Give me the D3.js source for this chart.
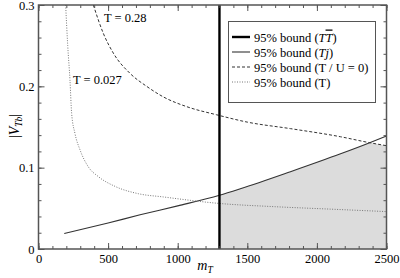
<!DOCTYPE html>
<html>
<head>
<meta charset="utf-8">
<script src="https://cdn.jsdelivr.net/npm/d3@7"></script>
<style>
body { margin: 0; background: #fff; }
</style>
</head>
<body>
<div id="chart"></div>
<script>
// values
var tjMass = [185, 500, 730, 1000, 1300, 1450, 1810, 2170, 2370, 2500];
var tjBound = [0.019, 0.032, 0.042, 0.053, 0.066, 0.074, 0.095, 0.117, 0.130, 0.139];

var tuMass = [394, 466, 537, 657, 777, 897, 1065, 1280, 1500, 1810, 2170, 2370, 2500];
var tuBound = [0.300, 0.265, 0.241, 0.216, 0.200, 0.187, 0.175, 0.165, 0.156, 0.148, 0.138, 0.131, 0.127];

var tMass = [195, 210, 226, 238, 262, 298, 358, 430, 550, 717, 897, 1300, 1700, 2100, 2500];
var tBound = [0.300, 0.250, 0.208, 0.167, 0.142, 0.122, 0.101, 0.089, 0.077, 0.068, 0.064, 0.056, 0.052, 0.049, 0.046];

var ttbarLimit = 1300;
var xTicks = [0, 500, 1000, 1500, 2000, 2500];
var yTicks = [0, 0.1, 0.2, 0.3];

var width = 400,
	height = 278;
var serif = "'Liberation Serif', 'Times New Roman', 'DejaVu Serif', serif";

var x = d3.scaleLinear().domain([0, 2500]).range([38.5, 386.5]);
var y = d3.scaleLinear().domain([0, 0.3]).range([249, 5]);

var svg = d3.select("#chart").append("svg")
	.attr("width", width)
	.attr("height", height)
	.style("font-family", serif);

var tj = tjMass.map(function(m, i){ return [m, tjBound[i]]; });
var tu = tuMass.map(function(m, i){ return [m, tuBound[i]]; });
var tt = tMass.map(function(m, i){ return [m, tBound[i]]; });

var line = d3.line()
	.curve(d3.curveMonotoneX)
	.x(function(d){ return x(d[0]); })
	.y(function(d){ return y(d[1]); });

// shaded allowed region: right of the TTbar limit, under both Tj and T/U bounds
var tjAt = d3.scaleLinear().domain(tjMass).range(tjBound);
var tuAt = d3.scaleLinear().domain(tuMass).range(tuBound);
var shadeMass = d3.range(ttbarLimit, 2500, 10).concat([2500]);
var area = d3.area()
	.x(function(m){ return x(m); })
	.y0(y(0))
	.y1(function(m){ return y(Math.min(tjAt(m), tuAt(m))); });

svg.append("path")
	.datum(shadeMass)
	.attr("d", area)
	.attr("fill", "#dcdcdc");

svg.append("path").datum(tj).attr("d", line)
	.attr("fill", "none").attr("stroke", "#333").attr("stroke-width", 1.1);
svg.append("path").datum(tu).attr("d", line)
	.attr("fill", "none").attr("stroke", "#333").attr("stroke-width", 1)
	.attr("stroke-dasharray", "3,2");
svg.append("path").datum(tt).attr("d", line)
	.attr("fill", "none").attr("stroke", "#777").attr("stroke-width", 1)
	.attr("stroke-dasharray", "1,1.5");

svg.append("line")
	.attr("x1", x(ttbarLimit)).attr("x2", x(ttbarLimit))
	.attr("y1", y(0)).attr("y2", y(0.3))
	.attr("stroke", "#000").attr("stroke-width", 2.4);

// axes, ticks pointing in, mirrored on top and right
var minorX = d3.range(0, 2501, 100);
var minorY = d3.range(0, 0.301, 0.02);

function styleAxis(g){
	g.select(".domain").remove();
	g.selectAll("line").attr("stroke", "#555");
	g.selectAll("text").attr("font-size", "12.5px").attr("fill", "#000")
		.attr("font-family", serif);
}

svg.append("g").attr("transform", "translate(0," + y(0) + ")")
	.call(d3.axisBottom(x).tickValues(minorX).tickSize(-3).tickFormat("")).call(styleAxis);
svg.append("g").attr("transform", "translate(0," + y(0) + ")")
	.call(d3.axisBottom(x).tickValues(xTicks).tickSize(-6).tickPadding(5).tickFormat(d3.format("d"))).call(styleAxis);
svg.append("g").attr("transform", "translate(0," + y(0.3) + ")")
	.call(d3.axisTop(x).tickValues(minorX).tickSize(-3).tickFormat("")).call(styleAxis);
svg.append("g").attr("transform", "translate(0," + y(0.3) + ")")
	.call(d3.axisTop(x).tickValues(xTicks).tickSize(-6).tickFormat("")).call(styleAxis);

svg.append("g").attr("transform", "translate(" + x(0) + ",0)")
	.call(d3.axisLeft(y).tickValues(minorY).tickSize(-3).tickFormat("")).call(styleAxis);
svg.append("g").attr("transform", "translate(" + x(0) + ",0)")
	.call(d3.axisLeft(y).tickValues(yTicks).tickSize(-6).tickPadding(4)
		.tickFormat(function(d){ return d === 0 ? "0" : d3.format(".1f")(d); })).call(styleAxis);
svg.append("g").attr("transform", "translate(" + x(2500) + ",0)")
	.call(d3.axisRight(y).tickValues(minorY).tickSize(-3).tickFormat("")).call(styleAxis);
svg.append("g").attr("transform", "translate(" + x(2500) + ",0)")
	.call(d3.axisRight(y).tickValues(yTicks).tickSize(-6).tickFormat("")).call(styleAxis);

svg.append("rect")
	.attr("x", x(0)).attr("y", y(0.3))
	.attr("width", x(2500) - x(0)).attr("height", y(0) - y(0.3))
	.attr("fill", "none").attr("stroke", "#555").attr("stroke-width", 1.5);

// curve annotations
svg.append("text").attr("x", 104).attr("y", 22).attr("font-size", "12.5px").text("T = 0.28");
svg.append("text").attr("x", 73).attr("y", 84).attr("font-size", "12.5px").text("T = 0.027");

// axis titles
var xt = svg.append("text").attr("x", 205).attr("y", 270).attr("font-size", "14px")
	.attr("text-anchor", "middle").attr("font-style", "italic");
xt.append("tspan").text("m");
xt.append("tspan").attr("font-size", "9.5px").attr("dy", 3).text("T");

var yt = svg.append("text").attr("transform", "translate(19,126) rotate(-90)")
	.attr("font-size", "14px").attr("text-anchor", "middle");
yt.append("tspan").text("|");
yt.append("tspan").attr("font-style", "italic").text("V");
yt.append("tspan").attr("font-style", "italic").attr("font-size", "9.5px").attr("dy", 3).text("Tb");
yt.append("tspan").attr("dy", -3).text("|");

// legend
var legend = svg.append("g");
legend.append("rect")
	.attr("x", 228.5).attr("y", 21.5).attr("width", 147).attr("height", 81)
	.attr("fill", "#fff").attr("stroke", "#555").attr("stroke-width", 1);

var legendRows = [
	{ parts: [["95% bound (", ""], ["T", "i"], ["T", "io"], [")", ""]], w: 2.4, c: "#000", dash: null },
	{ parts: [["95% bound (", ""], ["Tj", "i"], [")", ""]], w: 1.1, c: "#333", dash: null },
	{ parts: [["95% bound (T / U = 0)", ""]], w: 1, c: "#333", dash: "3,2" },
	{ parts: [["95% bound (T)", ""]], w: 1, c: "#777", dash: "1,1.5" }
];

legendRows.forEach(function(r, i){
	var yy = 37 + i * 15;
	legend.append("line")
		.attr("x1", 232).attr("x2", 250).attr("y1", yy).attr("y2", yy)
		.attr("stroke", r.c).attr("stroke-width", r.w)
		.attr("stroke-dasharray", r.dash);
	var t = legend.append("text").attr("x", 254).attr("y", yy + 4.5).attr("font-size", "12.5px");
	r.parts.forEach(function(p){
		var s = t.append("tspan").text(p[0]);
		if (p[1].indexOf("i") >= 0) s.attr("font-style", "italic");
		if (p[1].indexOf("o") >= 0) s.attr("text-decoration", "overline");
	});
});
</script>
</body>
</html>
